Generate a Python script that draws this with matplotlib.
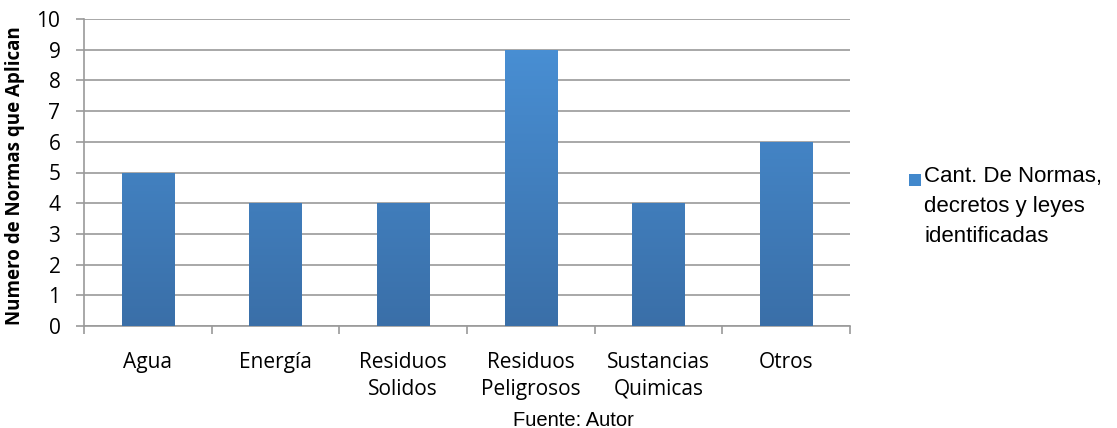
import numpy as np
import matplotlib.pyplot as plt
from matplotlib.colors import LinearSegmentedColormap
from matplotlib.patches import Rectangle

categories = ["Agua", "Energía", "Residuos\nSolidos", "Residuos\nPeligrosos",
              "Sustancias\nQuimicas", "Otros"]
values = [5, 4, 4, 9, 4, 6]
series_name = "Cant. De Normas,\ndecretos y leyes\nidentificadas"

W, H = 1117, 428
fig = plt.figure(figsize=(W / 100, H / 100), dpi=100)
ax = fig.add_axes([84 / W, 1 - 326 / H, (850 - 84) / W, (326 - 19) / H])

x = np.arange(len(categories))
bars = ax.bar(x, values, width=0.41, color="#4288cc", zorder=3)

# vertical gradient in each bar
cmap = LinearSegmentedColormap.from_list("g", ["#3a6fa8", "#4a92d8"])
grad = np.linspace(0, 1, 256).reshape(-1, 1)
for b in bars:
    bx, bw = b.get_x(), b.get_width()
    im = ax.imshow(grad, extent=[bx, bx + bw, 0, 10], origin="lower",
                   cmap=cmap, aspect="auto", zorder=3.5)
    im.set_clip_path(b)

ax.set_xlim(-0.5, len(categories) - 0.5)
ax.set_ylim(0, 10)
ax.set_yticks(range(0, 11))
ax.grid(axis="y", color="#9a9a9a", linewidth=1.2, zorder=0)
for s in ["top", "right"]:
    ax.spines[s].set_visible(False)
for s in ["left", "bottom"]:
    ax.spines[s].set_color("#9a9a9a")
    ax.spines[s].set_linewidth(1.2)

ax.set_xticks(x)
ax.set_xticklabels(categories, fontsize=15, family="Open Sans", linespacing=1.35)
ax.set_xticks(np.arange(-0.5, len(categories)), minor=True)
ax.tick_params(axis="x", which="major", length=0, pad=19)
ax.tick_params(axis="x", which="minor", length=6, color="#9a9a9a", width=1.2)
ax.tick_params(axis="y", length=6, color="#9a9a9a", width=1.2, pad=11)
for t in ax.get_yticklabels():
    t.set_fontsize(15)
    t.set_family("Open Sans")

ax.set_ylabel("Numero de Normas que Aplican", fontsize=13.5, fontweight="bold",
              family="Open Sans")
ax.yaxis.set_label_coords(-0.077, 0.49)

fig.text(573 / W, 1 - 420 / H, "Fuente: Autor", ha="center", va="center",
         fontsize=14.5, family="Liberation Sans")

# legend: square marker beside first line of the wrapped series name
fig.patches.append(Rectangle((909 / W, 1 - 186 / H), 12 / W, 12 / H,
                             transform=fig.transFigure, figure=fig,
                             facecolor="#4288cc", edgecolor="none"))
fig.text(924 / W, 1 - 166 / H, series_name, ha="left", va="top",
         fontsize=16, family="Liberation Sans", linespacing=1.55)

fig.savefig("out.png", dpi=100)
